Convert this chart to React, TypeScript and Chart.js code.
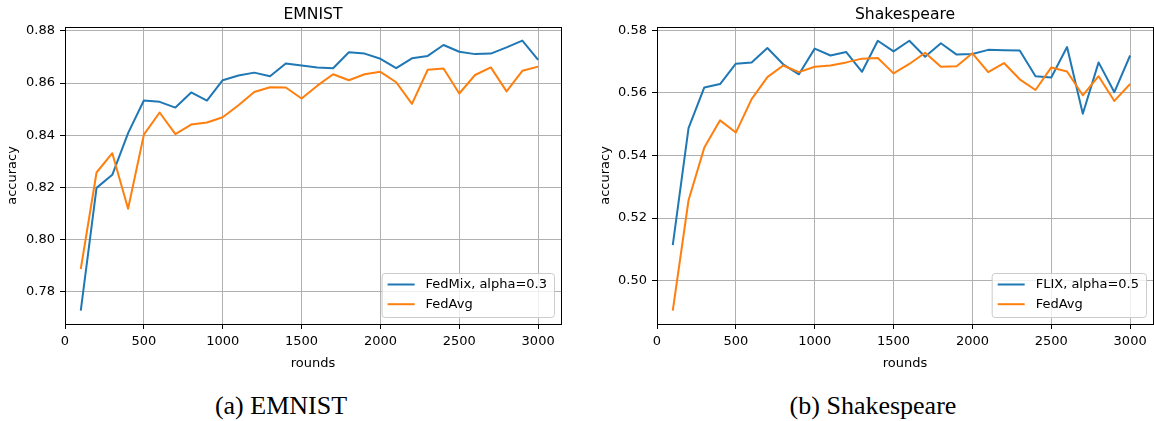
import React, { useEffect, useRef } from "react";
import { Chart, registerables } from "chart.js";
Chart.register(...registerables);

const rounds = [100, 200, 300, 400, 500, 600, 700, 800, 900, 1000, 1100, 1200, 1300, 1400, 1500, 1600, 1700, 1800, 1900, 2000, 2100, 2200, 2300, 2400, 2500, 2600, 2700, 2800, 2900, 3000];
const emnistFedMix = [0.7727, 0.8198, 0.8248, 0.8408, 0.8533, 0.8528, 0.8506, 0.8564, 0.8533, 0.8611, 0.8629, 0.8640, 0.8626, 0.8675, 0.8667, 0.8660, 0.8657, 0.8718, 0.8713, 0.8693, 0.8657, 0.8695, 0.8704, 0.8746, 0.8720, 0.8711, 0.8713, 0.8737, 0.8763, 0.8689];
const emnistFedAvg = [0.7887, 0.8257, 0.8331, 0.8118, 0.8402, 0.8487, 0.8404, 0.8441, 0.8449, 0.8469, 0.8515, 0.8566, 0.8584, 0.8583, 0.8541, 0.8590, 0.8634, 0.8611, 0.8634, 0.8643, 0.8603, 0.8520, 0.8651, 0.8656, 0.8560, 0.8631, 0.8660, 0.8568, 0.8647, 0.8663];
const shakFlix = [0.5114, 0.5487, 0.5617, 0.5628, 0.5693, 0.5697, 0.5743, 0.5691, 0.5659, 0.5741, 0.5719, 0.5730, 0.5667, 0.5766, 0.5732, 0.5766, 0.5715, 0.5758, 0.5722, 0.5724, 0.5737, 0.5736, 0.5735, 0.5653, 0.5649, 0.5746, 0.5533, 0.5697, 0.5602, 0.5719];
const shakFedAvg = [0.4905, 0.5257, 0.5425, 0.5512, 0.5473, 0.5580, 0.5650, 0.5687, 0.5666, 0.5683, 0.5687, 0.5697, 0.5709, 0.5711, 0.5662, 0.5692, 0.5728, 0.5683, 0.5685, 0.5726, 0.5666, 0.5695, 0.5643, 0.5609, 0.5681, 0.5668, 0.5592, 0.5653, 0.5574, 0.5628];

const xTicks = [0, 500, 1000, 1500, 2000, 2500, 3000];
const emnistYTicks = [0.78, 0.8, 0.82, 0.84, 0.86, 0.88];
const shakYTicks = [0.5, 0.52, 0.54, 0.56, 0.58];

const FONT = '"DejaVu Sans", sans-serif';
const BLUE = "#1f77b4";
const ORANGE = "#ff7f0e";

type Series = { label: string; values: number[]; color: string };

type PanelProps = {
  left: number;
  width: number;
  height: number;
  title: string;
  series: Series[];
  yMin: number;
  yMax: number;
  yTicks: number[];
  yAxisWidth: number;
  padRight: number;
};

function Panel(p: PanelProps) {
  const ref = useRef<HTMLCanvasElement>(null);
  useEffect(() => {
    const canvas = ref.current!;
    const deco = {
      id: "deco",
      afterDraw(chart: any) {
        const { ctx, chartArea: a } = chart;
        ctx.save();
        // spines
        ctx.strokeStyle = "#000";
        ctx.lineWidth = 1;
        ctx.strokeRect(Math.round(a.left) + 0.5, Math.round(a.top) + 0.5, Math.round(a.right) - Math.round(a.left), Math.round(a.bottom) - Math.round(a.top));
        // legend
        ctx.font = `13px ${FONT}`;
        let tw = 0;
        p.series.forEach((s) => {
          tw = Math.max(tw, ctx.measureText(s.label).width);
        });
        const boxW = 44 + tw + 7;
        const boxH = 44;
        const bx = a.right - 7 - boxW;
        const by = a.bottom - 7 - boxH;
        ctx.beginPath();
        (ctx as any).roundRect(bx + 0.5, by + 0.5, boxW, boxH, 3);
        ctx.fillStyle = "rgba(255,255,255,0.8)";
        ctx.fill();
        ctx.strokeStyle = "#cccccc";
        ctx.stroke();
        p.series.forEach((s, i) => {
          const cy = by + 11.5 + i * 19.7;
          ctx.beginPath();
          ctx.moveTo(bx + 6, cy);
          ctx.lineTo(bx + 33, cy);
          ctx.strokeStyle = s.color;
          ctx.lineWidth = 2;
          ctx.stroke();
          ctx.fillStyle = "#000";
          ctx.textAlign = "left";
          ctx.textBaseline = "middle";
          ctx.fillText(s.label, bx + 44, cy);
        });
        // title
        ctx.font = `15.6px ${FONT}`;
        ctx.fillStyle = "#000";
        ctx.textAlign = "center";
        ctx.textBaseline = "alphabetic";
        ctx.fillText(p.title, (a.left + a.right) / 2, 18.5);
        ctx.restore();
      },
    };
    const axisCommon = {
      type: "linear" as const,
      grid: { color: "#b0b0b0", lineWidth: 1, tickColor: "#000", tickLength: 5, tickWidth: 1 },
      border: { display: false },
    };
    const chart = new Chart(canvas, {
      type: "line",
      data: {
        datasets: p.series.map((s, i) => ({
          label: s.label,
          data: rounds.map((r, j) => ({ x: r, y: s.values[j] })),
          borderColor: s.color,
          backgroundColor: s.color,
          borderWidth: 2,
          pointRadius: 0,
          tension: 0,
          fill: false,
          borderJoinStyle: "round" as const,
          order: p.series.length - i,
        })),
      },
      options: {
        animation: false,
        responsive: false,
        events: [],
        layout: { padding: { left: 0, top: 27, right: p.padRight, bottom: 0 } },
        plugins: { legend: { display: false }, title: { display: false }, tooltip: { enabled: false } },
        scales: {
          x: {
            ...axisCommon,
            min: 0,
            max: 3145,
            afterBuildTicks: (s: any) => {
              s.ticks = xTicks.map((v) => ({ value: v }));
            },
            afterFit: (s: any) => {
              s.height = 56;
              s.paddingLeft = 0;
              s.paddingRight = 0;
            },
            ticks: {
              font: { family: FONT, size: 13 },
              color: "#000",
              padding: 5,
              maxRotation: 0,
              autoSkip: false,
              callback: (v: any) => String(v),
            },
            title: { display: true, text: "rounds", font: { family: FONT, size: 13 }, color: "#000", padding: { top: 0, bottom: 9 } },
          },
          y: {
            ...axisCommon,
            min: p.yMin,
            max: p.yMax,
            afterBuildTicks: (s: any) => {
              s.ticks = p.yTicks.map((v) => ({ value: v }));
            },
            afterFit: (s: any) => {
              s.width = p.yAxisWidth;
              s.paddingTop = 0;
              s.paddingBottom = 0;
            },
            ticks: {
              font: { family: FONT, size: 13 },
              color: "#000",
              padding: 5,
              autoSkip: false,
              callback: (v: any) => Number(v).toFixed(2),
            },
            title: { display: true, text: "accuracy", font: { family: FONT, size: 13 }, color: "#000", padding: { top: 5, bottom: 0 } },
          },
        },
      } as any,
      plugins: [deco],
    });
    return () => chart.destroy();
  }, []);
  return (
    <canvas
      ref={ref}
      width={p.width}
      height={p.height}
      style={{ position: "absolute", left: p.left, top: 0, width: p.width, height: p.height }}
    />
  );
}

const captionStyle = (center: number): React.CSSProperties => ({
  position: "absolute",
  left: center - 200,
  width: 400,
  top: 393,
  textAlign: "center",
  fontFamily: '"Liberation Serif", serif',
  fontSize: 26,
  lineHeight: "26px",
  color: "#000",
  whiteSpace: "nowrap",
});

export default function App() {
  return (
    <div style={{ position: "absolute", left: 0, top: 0, width: 1154, height: 421, background: "#fff", overflow: "hidden" }}>
      <Panel
        left={0}
        width={577}
        height={380}
        title="EMNIST"
        series={[
          { label: "FedMix, alpha=0.3", values: emnistFedMix, color: BLUE },
          { label: "FedAvg", values: emnistFedAvg, color: ORANGE },
        ]}
        yMin={0.7676}
        yMax={0.8815}
        yTicks={emnistYTicks}
        yAxisWidth={65}
        padRight={16}
      />
      <Panel
        left={593}
        width={561}
        height={380}
        title="Shakespeare"
        series={[
          { label: "FLIX, alpha=0.5", values: shakFlix, color: BLUE },
          { label: "FedAvg", values: shakFedAvg, color: ORANGE },
        ]}
        yMin={0.4862}
        yMax={0.581}
        yTicks={shakYTicks}
        yAxisWidth={64}
        padRight={1}
      />
      <div style={captionStyle(281)}>(a) EMNIST</div>
      <div style={captionStyle(873)}>(b) Shakespeare</div>
    </div>
  );
}
